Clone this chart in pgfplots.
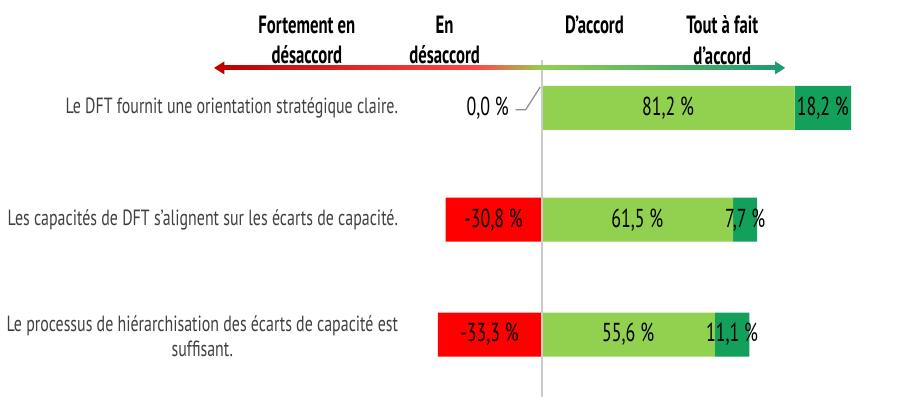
\documentclass[border=0pt]{standalone}
\usepackage{fontspec}
\setmainfont{PT Sans}[FakeStretch=0.75]
\newfontfamily\catfont{PT Sans}[FakeStretch=0.725]
\newfontfamily\valfont{PT Sans}[FakeStretch=0.69]
\newfontfamily\headfont{PT Sans}[FakeStretch=0.67]
\usepackage{pgfplots}
\pgfplotsset{compat=1.18}
\usepackage{pgfplotstable}
\definecolor{cred}{HTML}{FF0000}
\definecolor{clg}{HTML}{92D050}
\definecolor{cdg}{HTML}{12A05A}
\definecolor{ctxt}{HTML}{404040}
\definecolor{ared}{HTML}{C00000}
\definecolor{ared2}{HTML}{FF4B4B}
\definecolor{ateal}{HTML}{1F9A72}
\pgfplotstableread{
y agree strong
108 81.2 18.2
220 61.5 7.7
335 55.6 11.1
}\postab
\pgfplotstableread{
y dis
108 0
220 -30.8
335 -33.3
}\negtab
\pgfplotsset{base/.style={scale only axis, width=457pt, height=199pt,
  xmin=-173.4, xmax=119.55, ymin=0, ymax=398, y dir=reverse,
  hide axis, clip=false, bar width=22pt}}
\begin{document}
\begin{tikzpicture}
\begin{axis}[base, xbar stacked]
\path (rel axis cs:0,0) rectangle (rel axis cs:1,1);
\addplot[fill=clg, draw=none] table[x=agree, y=y]{\postab};
\addplot[fill=cdg, draw=none] table[x=strong, y=y]{\postab};
\end{axis}
\begin{axis}[base, xbar]
\addplot[fill=cred, draw=none] table[x=dis, y=y]{\negtab};
% axis line
\draw[black!20, line width=1pt] (axis cs:0,60) -- (axis cs:0,398);
% gradient arrow
\shade[left color=ared, right color=ared2] (axis cs:-101.9,66) rectangle (axis cs:-19.6,70);
\shade[left color=ared2, right color=clg] (axis cs:-19.7,66) rectangle (axis cs:0.1,70);
\shade[left color=clg, right color=ateal] (axis cs:0,66) rectangle (axis cs:75.1,70);
\fill[ared] (axis cs:-105.1,68) -- (axis cs:-101.8,61.5) -- (axis cs:-101.8,74.5) -- cycle;
\fill[ateal] (axis cs:78.2,68) -- (axis cs:75,61.5) -- (axis cs:75,74.5) -- cycle;
% headers
\begin{scope}[every node/.style={font=\headfont\fontsize{12.5}{15.5}\selectfont\bfseries, align=center, text=black}]
\node at (axis cs:-75.3,40) {Fortement en\\désaccord};
\node at (axis cs:-31.1,40) {En\\désaccord};
\node at (axis cs:17.0,25) {D’accord};
\node at (axis cs:58.0,40) {Tout à fait\\d’accord};
\end{scope}
% category labels
\begin{scope}[every node/.style={font=\catfont\fontsize{11}{12.5}\selectfont, align=center, text=ctxt, anchor=east}]
\node at (axis cs:-43.8,108) {Le DFT fournit une orientation stratégique claire.};
\node at (axis cs:-43.8,220) {Les capacités de DFT s’alignent sur les écarts de capacité.};
\node at (axis cs:-43.8,337) {Le processus de hiérarchisation des écarts de capacité est\\suffisant.};
\end{scope}
% value labels
\begin{scope}[every node/.style={font=\valfont\fontsize{13}{15}\selectfont, text=black}]
\node at (axis cs:40.6,108) {81,2 \%};
\node at (axis cs:90.3,108) {18,2 \%};
\node at (axis cs:-17.3,108) {0,0 \%};
\node at (axis cs:-15.4,220) {-30,8 \%};
\node at (axis cs:30.75,220) {61,5 \%};
\node at (axis cs:65.35,220) {7,7 \%};
\node at (axis cs:-16.65,335) {-33,3 \%};
\node at (axis cs:27.8,335) {55,6 \%};
\node at (axis cs:61.15,335) {11,1 \%};
\end{scope}
\draw[black!45, line width=0.6pt] (axis cs:-8.3,110) -- (axis cs:-5.1,110) -- (axis cs:-0.4,87);
\end{axis}
\end{tikzpicture}
\end{document}
